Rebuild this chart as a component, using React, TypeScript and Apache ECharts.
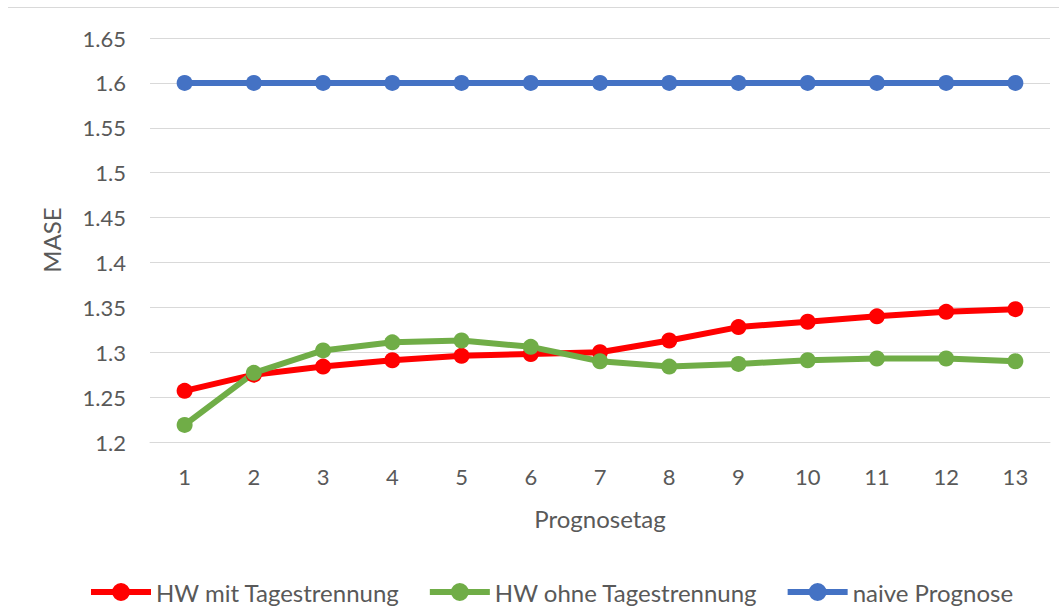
import React, { useEffect, useRef } from "react";
import * as echarts from "echarts";

const categories = ["1", "2", "3", "4", "5", "6", "7", "8", "9", "10", "11", "12", "13"];
const hwMit = [1.257, 1.275, 1.284, 1.291, 1.296, 1.298, 1.300, 1.313, 1.328, 1.334, 1.340, 1.345, 1.348];
const hwOhne = [1.219, 1.277, 1.302, 1.311, 1.313, 1.306, 1.290, 1.284, 1.287, 1.291, 1.293, 1.293, 1.290];
const naive = [1.6, 1.6, 1.6, 1.6, 1.6, 1.6, 1.6, 1.6, 1.6, 1.6, 1.6, 1.6, 1.6];
const legendNames = ["HW mit Tagestrennung", "HW ohne Tagestrennung", "naive Prognose"];

const FONT = "Lato";
const TXT = "#595959";
const LEGEND_ICON =
  "path://M0,6 L60,6 L60,12 L0,12 Z M21,9 A9,9 0 1,1 39,9 A9,9 0 1,1 21,9 Z";

export default function App() {
  const ref = useRef<HTMLDivElement>(null);
  useEffect(() => {
    if (!ref.current) return;
    const chart = echarts.init(ref.current, undefined, { renderer: "svg" });
    const mk = (name: string, data: number[], color: string) => ({
      name,
      type: "line",
      data,
      symbol: "circle",
      symbolSize: 16,
      lineStyle: { color, width: 6 },
      itemStyle: { color },
      z: 2,
    });
    chart.setOption({
      animation: false,
      textStyle: { fontFamily: FONT },
      grid: { left: 150, right: 9, top: 38, bottom: 168 },
      graphic: [
        { type: "line", shape: { x1: 8, y1: 7.5, x2: 1059, y2: 7.5 }, style: { stroke: "#d9d9d9", lineWidth: 1 } },
      ],
      xAxis: {
        type: "category",
        data: categories,
        boundaryGap: true,
        name: "Prognosetag",
        nameLocation: "middle",
        nameGap: 64,
        nameTextStyle: { color: TXT, fontSize: 24, fontFamily: FONT },
        axisLine: { lineStyle: { color: "#d9d9d9", width: 1 } },
        axisTick: { show: false },
        axisLabel: { color: TXT, fontSize: 22, margin: 23, fontFamily: FONT },
      },
      yAxis: {
        type: "value",
        min: 1.2,
        max: 1.65,
        interval: 0.05,
        name: "MASE",
        nameLocation: "middle",
        nameGap: 87,
        nameTextStyle: { color: TXT, fontSize: 24, fontFamily: FONT },
        axisLine: { show: false },
        axisTick: { show: false },
        axisLabel: {
          color: TXT,
          fontSize: 22,
          margin: 24,
          fontFamily: FONT,
          formatter: (v: number) => String(parseFloat(v.toFixed(2))),
        },
        splitLine: { lineStyle: { color: "#d9d9d9", width: 1 } },
      },
      legend: {
        top: 575,
        left: 86,
        icon: LEGEND_ICON,
        itemWidth: 60,
        itemHeight: 18,
        itemGap: 30,
        textStyle: { color: TXT, fontSize: 24, fontFamily: FONT },
        data: legendNames,
      },
      series: [
        mk("naive Prognose", naive, "#4472C4"),
        mk("HW mit Tagestrennung", hwMit, "#FF0000"),
        mk("HW ohne Tagestrennung", hwOhne, "#70AD47"),
      ],
    });
    return () => chart.dispose();
  }, []);
  return (
    <div
      ref={ref}
      style={{ position: "fixed", left: 0, top: 0, width: 1059, height: 610, background: "#fff" }}
    />
  );
}
